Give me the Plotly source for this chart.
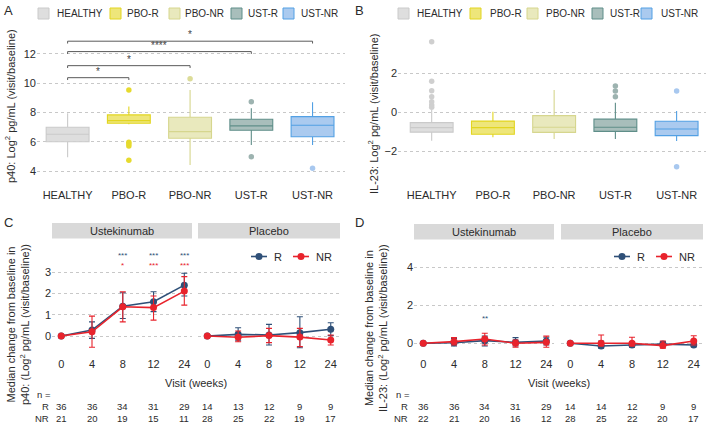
import plotly.graph_objects as go

W, H = 709, 424
def fx(p): return p / W
def fy(p): return 1 - p / H

FONT = "Liberation Sans, Arial, sans-serif"
TXT = "#2b2b2b"

# ---------------- Data: panels A & B ----------------
groups = ["HEALTHY", "PBO-R", "PBO-NR", "UST-R", "UST-NR"]
box_fill = ["#dedede", "#eee67a", "#e9e9bd", "#a8bebb", "#aacaef"]
box_line = ["#cacaca", "#e2d521", "#d6d68e", "#5f8e89", "#52a0e4"]
out_col = ["#cfcfcf", "#e6da2e", "#dcdc98", "#9db3b0", "#a8c8ef"]

a_low = [4.95, 7.20, 4.42, 5.79, 5.79]
a_q1 = [6.01, 7.27, 6.25, 6.79, 6.35]
a_med = [6.52, 7.45, 6.70, 7.09, 7.13]
a_q3 = [7.00, 7.84, 7.68, 7.54, 7.72]
a_high = [7.95, 8.42, 9.54, 8.29, 8.70]
a_out = [[], [9.54, 5.98, 5.85, 5.72, 4.74], [10.30], [8.74, 4.99], [4.20]]

b_low = [-1.46, -1.29, -1.38, -1.38, -1.48]
b_q1 = [-1.02, -1.13, -1.03, -0.98, -1.20]
b_med = [-0.79, -0.79, -0.77, -0.77, -0.86]
b_q3 = [-0.53, -0.45, -0.17, -0.35, -0.46]
b_high = [0.12, 0.03, 1.15, 0.49, 0.07]
b_out = [[3.64, 1.61, 1.11, 0.80, 0.55, 0.38, 0.26], [], [], [1.36, 1.10, 0.80], [1.10, -2.80]]

# significance brackets for panel A (from HEALTHY to group index)
sig_to = [4, 3, 2, 1]
sig_y = [12.87, 12.16, 11.20, 10.38]
sig_lab = ["*", "****", "*", "*"]

# ---------------- Data: panels C & D ----------------
visits = ["0", "4", "8", "12", "24"]
arms = ["Ustekinumab", "Placebo"]

c_R = {"Ustekinumab": [0, 0.28, 1.41, 1.62, 2.40], "Placebo": [0, 0.08, 0.05, 0.16, 0.32]}
c_R_hi = {"Ustekinumab": [0, 0.67, 2.04, 2.09, 2.96], "Placebo": [0, 0.39, 0.55, 0.91, 0.63]}
c_R_lo = {"Ustekinumab": [0, -0.11, 0.83, 1.15, 1.89], "Placebo": [0, -0.22, -0.42, -0.55, 0.02]}
c_NR = {"Ustekinumab": [0, 0.20, 1.38, 1.34, 2.12], "Placebo": [0, -0.06, 0.02, -0.05, -0.19]}
c_NR_hi = {"Ustekinumab": [0, 0.94, 2.09, 1.89, 2.80], "Placebo": [0, 0.24, 0.36, 0.36, 0.05]}
c_NR_lo = {"Ustekinumab": [0, -0.53, 0.67, 0.75, 1.46], "Placebo": [0, -0.27, -0.31, -0.50, -0.42]}

d_R = {"Ustekinumab": [0, 0.03, 0.14, 0.05, 0.12], "Placebo": [0, -0.14, -0.09, -0.04, -0.09]}
d_R_hi = {"Ustekinumab": [0, 0.26, 0.38, 0.30, 0.32], "Placebo": [0, 0.12, 0.09, 0.09, 0.03]}
d_R_lo = {"Ustekinumab": [0, -0.14, -0.14, -0.14, -0.09], "Placebo": [0, -0.26, -0.21, -0.18, -0.18]}
d_NR = {"Ustekinumab": [0, 0.09, 0.23, 0.00, 0.05], "Placebo": [0, 0.00, 0.00, -0.12, 0.12]}
d_NR_hi = {"Ustekinumab": [0, 0.30, 0.53, 0.17, 0.38], "Placebo": [0, 0.44, 0.32, 0.12, 0.40]}
d_NR_lo = {"Ustekinumab": [0, -0.09, -0.09, -0.21, -0.21], "Placebo": [0, -0.14, -0.14, -0.26, -0.09]}

c_n_R = {"Ustekinumab": [36, 36, 34, 31, 29], "Placebo": [14, 13, 12, 9, 9]}
c_n_NR = {"Ustekinumab": [21, 20, 19, 15, 11], "Placebo": [28, 25, 22, 19, 17]}
d_n_R = {"Ustekinumab": [36, 36, 34, 31, 29], "Placebo": [14, 14, 12, 9, 9]}
d_n_NR = {"Ustekinumab": [22, 21, 20, 16, 12], "Placebo": [28, 25, 22, 20, 17]}

# significance stars: visit index -> (R label, NR label)
c_stars = {2: ("***", "*"), 3: ("***", "***"), 4: ("***", "***")}
d_stars = {2: ("**", "")}

COL_R = "#2f5078"
COL_NR = "#e8232c"

fig = go.Figure()
shapes = []
ann = []

def A(text, x, y, size=11, color=TXT, xanchor="center", yanchor="middle", xref="paper", yref="paper", angle=0):
    ann.append(dict(text=text, x=x, y=y, xref=xref, yref=yref, showarrow=False, borderpad=0,
                    font=dict(size=size, color=color, family=FONT),
                    xanchor=xanchor, yanchor=yanchor, textangle=angle))

# ---------------- Box panels ----------------
def box_panel(xa, ya, low, q1, med, q3, high, outs):
    for i, g in enumerate(groups):
        fig.add_trace(go.Box(x=[i], q1=[q1[i]], median=[med[i]], q3=[q3[i]],
                             lowerfence=[low[i]], upperfence=[high[i]],
                             fillcolor=box_fill[i], line=dict(color=box_line[i], width=1.1),
                             width=0.7, whiskerwidth=0, boxpoints=False,
                             xaxis=xa, yaxis=ya, showlegend=False, hoverinfo="skip"))
        if outs[i]:
            fig.add_trace(go.Scatter(x=[i] * len(outs[i]), y=outs[i], mode="markers",
                                     marker=dict(color=out_col[i], size=5.5),
                                     xaxis=xa, yaxis=ya, showlegend=False, hoverinfo="skip"))

box_panel("x", "y", a_low, a_q1, a_med, a_q3, a_high, a_out)
box_panel("x2", "y2", b_low, b_q1, b_med, b_q3, b_high, b_out)

# brackets A
for j, yv, lab in zip(sig_to, sig_y, sig_lab):
    tip = 0.16
    shapes.append(dict(type="path", xref="x", yref="y",
                       path=f"M 0 {yv - tip} L 0 {yv} L {j} {yv} L {j} {yv - tip}",
                       line=dict(color="#5a5a5a", width=1)))
    A(lab, j / 2, yv, size=10, color="#444444", xref="x", yref="y", yanchor="bottom")

# legends A & B
def box_legend(sq_x, txt_x):
    for i, g in enumerate(groups):
        shapes.append(dict(type="rect", xref="paper", yref="paper",
                           x0=fx(sq_x[i]), x1=fx(sq_x[i] + 11), y0=fy(19), y1=fy(8),
                           fillcolor=box_fill[i], line=dict(color=box_line[i], width=1)))
        A(g, fx(txt_x[i]), fy(13.5), size=10, xanchor="left")

box_legend([38, 110, 169, 231, 283], [56, 126, 184, 247, 300])
box_legend([398, 470, 527, 592, 641], [416, 489, 545, 609, 660])

# ---------------- Line panels ----------------
def line_panel(xa, ya, arm, R, Rhi, Rlo, NR, NRhi, NRlo):
    xs = list(range(len(visits)))
    for vals, hi, lo, col in [(R, Rhi, Rlo, COL_R), (NR, NRhi, NRlo, COL_NR)]:
        v = vals[arm]
        fig.add_trace(go.Scatter(
            x=xs, y=v, mode="lines+markers",
            line=dict(color=col, width=1.6), marker=dict(color=col, size=7),
            error_y=dict(type="data", symmetric=False,
                         array=[h - m for h, m in zip(hi[arm], v)],
                         arrayminus=[m - l for l, m in zip(lo[arm], v)],
                         color=col, thickness=1.1, width=3),
            xaxis=xa, yaxis=ya, showlegend=False, hoverinfo="skip"))

line_panel("x3", "y3", "Ustekinumab", c_R, c_R_hi, c_R_lo, c_NR, c_NR_hi, c_NR_lo)
line_panel("x4", "y4", "Placebo", c_R, c_R_hi, c_R_lo, c_NR, c_NR_hi, c_NR_lo)
line_panel("x5", "y5", "Ustekinumab", d_R, d_R_hi, d_R_lo, d_NR, d_NR_hi, d_NR_lo)
line_panel("x6", "y6", "Placebo", d_R, d_R_hi, d_R_lo, d_NR, d_NR_hi, d_NR_lo)

# stars (one text per visit, R line above NR line)
def star_text(r, nr):
    t = f"<span style='color:{COL_R}'>{r}</span>"
    if nr:
        t += f"<br><span style='color:{COL_NR}'>{nr}</span>"
    return t

for vi, (r, nr) in c_stars.items():
    A(star_text(r, nr), vi, 4.07, size=8, xref="x3", yref="y3", yanchor="top")
for vi, (r, nr) in d_stars.items():
    A(star_text(r, nr), vi, 1.62, size=8, xref="x5", yref="y5", yanchor="top")

# strips
def strip(x0, x1, y0, y1, text):
    shapes.append(dict(type="rect", xref="paper", yref="paper", x0=fx(x0), x1=fx(x1),
                       y0=fy(y1), y1=fy(y0), fillcolor="#d9d9d9", line=dict(width=0)))
    A(text, fx((x0 + x1) / 2), fy((y0 + y1) / 2), size=11)

strip(52, 192, 223, 238.5, "Ustekinumab")
strip(198, 340, 223, 238.5, "Placebo")
strip(414, 554, 224, 239.5, "Ustekinumab")
strip(561, 703, 224, 239.5, "Placebo")

# R/NR legends
def rn_legend(x_r, x_nr, yc):
    for xc, col, lab in [(x_r, COL_R, "R"), (x_nr, COL_NR, "NR")]:
        shapes.append(dict(type="line", xref="paper", yref="paper",
                           x0=fx(xc - 8), x1=fx(xc + 8), y0=fy(yc), y1=fy(yc),
                           line=dict(color=col, width=1.6)))
        shapes.append(dict(type="circle", xref="paper", yref="paper",
                           x0=fx(xc - 3.5), x1=fx(xc + 3.5), y0=fy(yc + 3.5), y1=fy(yc - 3.5),
                           fillcolor=col, line=dict(color=col, width=0)))
        A(lab, fx(xc + 14), fy(yc), size=11, xanchor="left")

rn_legend(259, 301, 256.5)
rn_legend(622, 664, 256.5)

# n tables
NSIZE = 9.5
def n_table(xa_u, xa_p, nR, nNR, lab_x):
    A("n =", fx(lab_x - 14), fy(394.5), size=NSIZE, xanchor="left")
    A("R", fx(lab_x), fy(406.3), size=NSIZE, xanchor="right")
    A("NR", fx(lab_x), fy(418.4), size=NSIZE, xanchor="right")
    for xa, arm in [(xa_u, "Ustekinumab"), (xa_p, "Placebo")]:
        for i in range(len(visits)):
            A(str(nR[arm][i]), i, fy(406.3), size=NSIZE, xref=xa)
            A(str(nNR[arm][i]), i, fy(418.4), size=NSIZE, xref=xa)

n_table("x3", "x4", c_n_R, c_n_NR, 50)
n_table("x5", "x6", d_n_R, d_n_NR, 408.5)

A("Visit (weeks)", fx(196), fy(383), size=11)
A("Visit (weeks)", fx(559), fy(383), size=11)

# axis titles
A("p40: Log<sup>2</sup> pg/mL (visit/baseline)", fx(10), fy(106), size=11, angle=-90)
A("IL-23: Log<sup>2</sup> pg/mL (visit/baseline)", fx(373), fy(114), size=11, angle=-90)
A("Median change from baseline in<br>p40: (Log<sup>2</sup> pg/mL (visit/baseline))", fx(18), fy(325), size=11, angle=-90)
A("Median change from baseline in<br>IL-23: (Log<sup>2</sup> pg/mL (visit/baseline))", fx(376), fy(328), size=11, angle=-90)

# panel letters
for lab, x, y in [("A", 8, 10), ("B", 359, 10), ("C", 8, 222), ("D", 359, 222)]:
    A(lab, fx(x), fy(y), size=13, xanchor="center")

# ---------------- Axes ----------------
grid = dict(showgrid=True, gridcolor="#c8c8c8", griddash="dot", gridwidth=1, zeroline=False,
            showline=False, ticks="", tickfont=dict(size=11, color=TXT, family=FONT))
nogrid_ab = dict(showgrid=False, zeroline=False, showline=False, ticks="", ticklabelstandoff=6,
                 tickfont=dict(size=11, color=TXT, family=FONT))
nogrid_cd = dict(showgrid=False, zeroline=False, showline=False, ticks="", ticklabelstandoff=3,
                 tickfont=dict(size=11, color=TXT, family=FONT))

layout = dict(
    width=W, height=H, margin=dict(l=0, r=0, t=0, b=0),
    paper_bgcolor="white", plot_bgcolor="white", boxmode="overlay",
    font=dict(family=FONT, color=TXT),
    xaxis=dict(domain=[fx(37), fx(345)], range=[-0.5, 4.53], anchor="y",
               tickvals=list(range(5)), ticktext=groups, **nogrid_ab),
    yaxis=dict(domain=[fy(181), fy(28)], range=[3.33, 13.77], anchor="x",
               tickvals=[4, 6, 8, 10, 12], **grid),
    xaxis2=dict(domain=[fx(398), fx(706)], range=[-0.55, 4.48], anchor="y2",
                tickvals=list(range(5)), ticktext=groups, **nogrid_ab),
    yaxis2=dict(domain=[fy(181), fy(28)], range=[-3.54, 4.35], anchor="x2",
                tickvals=[-2, 0, 2], **grid),
    xaxis3=dict(domain=[fx(52), fx(192)], range=[-0.3, 4.25], anchor="y3",
                tickvals=list(range(5)), ticktext=visits, **nogrid_cd),
    yaxis3=dict(domain=[fy(353), fy(238.5)], range=[-0.8, 4.6], anchor="x3",
                tickvals=[0, 1, 2, 3], **grid),
    xaxis4=dict(domain=[fx(198), fx(340)], range=[-0.3, 4.3], anchor="y4",
                tickvals=list(range(5)), ticktext=visits, **nogrid_cd),
    yaxis4=dict(domain=[fy(353), fy(238.5)], range=[-0.8, 4.6], anchor="x4",
                tickvals=[0, 1, 2, 3], showticklabels=False, **grid),
    xaxis5=dict(domain=[fx(414), fx(554)], range=[-0.3, 4.25], anchor="y5",
                tickvals=list(range(5)), ticktext=visits, **nogrid_cd),
    yaxis5=dict(domain=[fy(353), fy(239.5)], range=[-0.51, 5.47], anchor="x5",
                tickvals=[0, 2, 4], **grid),
    xaxis6=dict(domain=[fx(561), fx(703)], range=[-0.3, 4.3], anchor="y6",
                tickvals=list(range(5)), ticktext=visits, **nogrid_cd),
    yaxis6=dict(domain=[fy(353), fy(239.5)], range=[-0.51, 5.47], anchor="x6",
                tickvals=[0, 2, 4], showticklabels=False, **grid),
    shapes=shapes, annotations=ann,
)
fig.update_layout(**layout)
fig.write_html("out.html", config={"displayModeBar": False},
               post_script="document.body.style.margin='0';document.body.style.overflow='hidden';")
